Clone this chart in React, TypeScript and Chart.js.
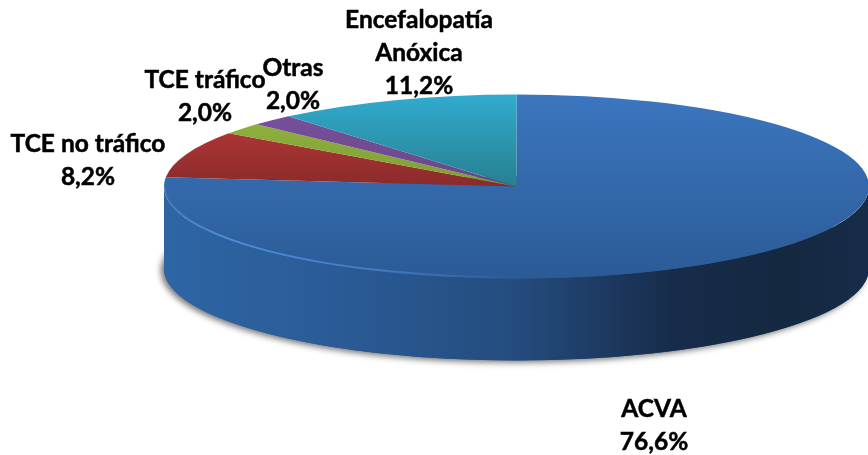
import React, { useEffect, useRef } from "react";
import { Chart, registerables } from "chart.js";

Chart.register(...registerables);

const categories = ["ACVA", "TCE no tráfico", "TCE tráfico", "Otras", "Encefalopatía\nAnóxica"];
const values = [76.6, 8.2, 2.0, 2.0, 11.2];
const topColors = ["#3b76bf", "#c43c3a", "#93b83f", "#7a529f", "#31abcf"];
const bottomColors = ["#2b5b96", "#8a2b2b", "#7f9e36", "#694789", "#27808f"];

const labelAnchors = [
  { x: 654, y: 409 },
  { x: 88, y: 144 },
  { x: 205, y: 80 },
  { x: 293, y: 68 },
  { x: 419, y: 20 },
];

const CX = 516.5;
const CY = 186.5;
const RX = 352.5;
const RY = 92;
const DEPTH = 82;
const LINE = 33;
const FONT = 'bold 24.5px Lato, sans-serif';

const piePlugin = {
  id: "flatPie",
  beforeDatasetsDraw(chart: any) {
    const ctx: CanvasRenderingContext2D = chart.ctx;
    const arcs = chart.getDatasetMeta(0).data;
    // soft shadow below the disc
    ctx.save();
    ctx.shadowColor = "rgba(0,0,0,0.55)";
    ctx.shadowBlur = 6;
    ctx.shadowOffsetX = -3;
    ctx.shadowOffsetY = 2;
    ctx.fillStyle = "#2b5b96";
    ctx.beginPath();
    ctx.ellipse(CX, CY + DEPTH, RX, RY, 0, 0, Math.PI * 2);
    ctx.fill();
    ctx.restore();
    // side wall
    const wall = ctx.createLinearGradient(CX - RX, 0, CX + RX, 0);
    wall.addColorStop(0, "#2e65a4");
    wall.addColorStop(0.25, "#2a5b96");
    wall.addColorStop(0.5, "#244c7e");
    wall.addColorStop(0.72, "#172c4b");
    wall.addColorStop(0.88, "#142840");
    wall.addColorStop(1, "#172c49");
    arcs.forEach((arc: any) => {
      const a = Math.max(arc.startAngle, 0);
      const b = Math.min(arc.endAngle, Math.PI);
      if (b <= a) return;
      ctx.beginPath();
      ctx.ellipse(CX, CY, RX, RY, 0, a, b);
      ctx.ellipse(CX, CY + DEPTH, RX, RY, 0, b, a, true);
      ctx.closePath();
      ctx.fillStyle = wall;
      ctx.fill();
    });
    // top face: same arcs, squashed to the perspective ellipse
    const first = arcs[0];
    ctx.save();
    ctx.translate(CX, CY);
    ctx.scale(RX / first.outerRadius, RY / first.outerRadius);
    ctx.translate(-first.x, -first.y);
  },
  afterDatasetsDraw(chart: any) {
    const ctx: CanvasRenderingContext2D = chart.ctx;
    ctx.restore();
    // light rim on the front edge
    const rim = ctx.createLinearGradient(CX - RX, 0, CX, 0);
    rim.addColorStop(0, "rgba(80,145,225,0.2)");
    rim.addColorStop(0.15, "rgba(80,145,225,0.95)");
    rim.addColorStop(0.6, "rgba(80,145,225,0.6)");
    rim.addColorStop(1, "rgba(80,145,225,0)");
    ctx.save();
    ctx.beginPath();
    ctx.ellipse(CX, CY, RX - 1, RY - 1, 0, Math.PI * 0.5, Math.PI);
    ctx.strokeStyle = rim;
    ctx.lineWidth = 2;
    ctx.stroke();
    ctx.restore();
    // labels
    ctx.save();
    ctx.font = FONT;
    ctx.fillStyle = "#000";
    ctx.strokeStyle = "#000";
    ctx.lineWidth = 0.5;
    ctx.textAlign = "center";
    ctx.textBaseline = "middle";
    categories.forEach((name, i) => {
      const lines = [...name.split("\n"), values[i].toFixed(1).replace(".", ",") + "%"];
      lines.forEach((t, j) => {
        ctx.fillText(t, labelAnchors[i].x, labelAnchors[i].y + j * LINE);
        ctx.strokeText(t, labelAnchors[i].x, labelAnchors[i].y + j * LINE);
      });
    });
    ctx.restore();
  },
};

export default function App() {
  const ref = useRef<HTMLCanvasElement>(null);
  useEffect(() => {
    const chart = new Chart(ref.current!, {
      type: "pie",
      data: {
        labels: categories,
        datasets: [
          {
            data: values,
            clip: false,
            borderWidth: 0,
            backgroundColor: (c: any) => {
              const area = c.chart.chartArea;
              if (!area) return topColors[c.dataIndex];
              const cy = (area.top + area.bottom) / 2;
              const r = Math.min(area.width, area.height) / 2;
              const bottomY = c.dataIndex === 0 ? cy + r : cy;
              const g = c.chart.ctx.createLinearGradient(0, cy - r, 0, bottomY);
              g.addColorStop(0, topColors[c.dataIndex]);
              g.addColorStop(1, bottomColors[c.dataIndex]);
              return g;
            },
          } as any,
        ],
      },
      options: {
        responsive: false,
        animation: false,
        events: [],
        layout: { padding: 0 },
        plugins: { legend: { display: false }, tooltip: { enabled: false } },
      },
      plugins: [piePlugin],
    });
    return () => chart.destroy();
  }, []);
  return (
    <div style={{ position: "fixed", left: 0, top: 0, width: 868, height: 455, background: "#fff" }}>
      <canvas ref={ref} width={868} height={455} style={{ display: "block" }} />
    </div>
  );
}
